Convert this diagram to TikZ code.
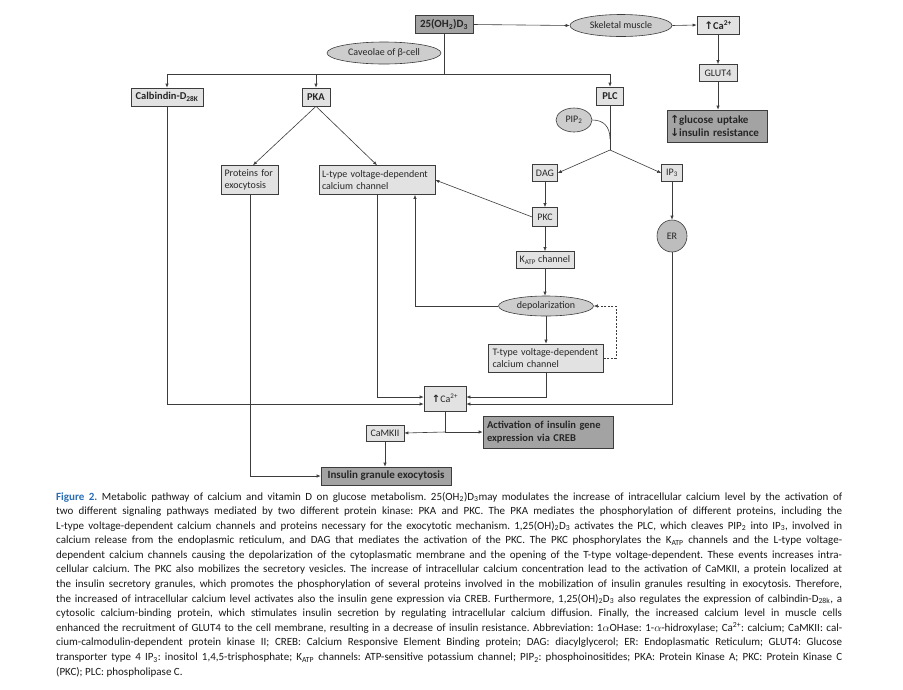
\documentclass[tikz,border=0pt]{standalone}
\usepackage{fontspec}
\setmainfont{Carlito}
\newfontfamily\symf{DejaVu Sans}
\usetikzlibrary{shapes.geometric,arrows.meta,calc}
\definecolor{lfill}{HTML}{E2E2E2}
\definecolor{dfill}{HTML}{A3A3A3}
\definecolor{efill}{HTML}{CDCDCD}
\definecolor{erfill}{HTML}{BDBDBD}
\definecolor{lnc}{HTML}{3C3C3C}
\definecolor{figblue}{HTML}{2A6DB5}
\newcommand{\up}{{\symf\bfseries ↑}}
\newcommand{\dn}{{\symf\bfseries ↓}}
\frenchspacing
\begin{document}
\begin{tikzpicture}[x=1pt,y=-1pt,
  lbox/.style={draw=lnc, fill=lfill, line width=0.6pt, inner sep=1pt, text=black!85, font=\fontsize{10}{11.5}\selectfont},
  dbox/.style={lbox, fill=dfill, font=\fontsize{11}{13}\selectfont\bfseries},
  bbox/.style={lbox, font=\fontsize{10.5}{12}\selectfont\bfseries},
  ell/.style={ellipse, draw=lnc, fill=efill, line width=0.6pt, inner sep=0pt, text=black!85, font=\fontsize{10}{11.5}\selectfont},
  con/.style={draw=lnc, line width=0.6pt},
  arr/.style={con, -{Latex[length=4pt,width=3.2pt]}},
  capline/.style={anchor=west, inner sep=0pt, text=black!90, font=\fontsize{11}{13}\selectfont}]
\useasboundingbox[fill=white] (0,0) rectangle (903,689);

% ---- nodes ----
\node[dbox, minimum width=58, minimum height=18] (d3) at (444,24.5) {25(OH\textsubscript{2})D\textsubscript{3}};
\node[ell, minimum width=102, minimum height=22] (skm) at (621,25.5) {Skeletal muscle};
\node[bbox, minimum width=42, minimum height=18] (catop) at (718,25) {\up Ca\textsuperscript{2+}};
\node[lbox, minimum width=38, minimum height=17] (glut) at (718,73) {GLUT4};
\node[dbox, minimum width=100, minimum height=32, align=left, text width=94, inner xsep=3] (gluc) at (717,126) {\up glucose uptake\\\dn insulin resistance};
\node[ell, minimum width=114, minimum height=22] (cav) at (384,53) {Caveolae of β-cell};

\node[bbox, minimum width=72, minimum height=18] (calb) at (167,97) {Calbindin-D\textsubscript{28K}};
\node[bbox, minimum width=28, minimum height=18] (pka) at (316,97) {PKA};
\node[bbox, minimum width=27, minimum height=18] (plc) at (610,96) {PLC};
\node[ell, minimum width=36, minimum height=24] (pip) at (574,120) {PIP\textsubscript{2}};

\node[lbox, minimum width=25, minimum height=17] (dag) at (545,173) {DAG};
\node[lbox, minimum width=21, minimum height=17] (ip3) at (672,173) {IP\textsubscript{3}};
\node[lbox, minimum width=25, minimum height=19] (pkc) at (545,217) {PKC};
\node[lbox, minimum width=58, minimum height=17] (katp) at (545,260) {K\textsubscript{ATP} channel};
\node[ell, minimum width=95, minimum height=20] (depol) at (546,306) {depolarization};
\node[lbox, minimum width=115, minimum height=28, align=left, text width=107, inner xsep=4] (ttype) at (546,358) {T-type voltage-dependent\\calcium channel};
\node[ell, fill=erfill, minimum width=30, minimum height=32] (er) at (672,236) {ER};

\node[lbox, minimum width=57, minimum height=29, align=left, text width=51, inner xsep=3] (prot) at (250,180) {Proteins for\\exocytosis};
\node[lbox, minimum width=116, minimum height=29, align=left, text width=110, inner xsep=3] (ltype) at (377,180) {L-type voltage-dependent\\calcium channel};

\node[lbox, minimum width=42, minimum height=25] (ca) at (445,398.5) {\up Ca\textsuperscript{2+}};
\node[lbox, minimum width=38, minimum height=16] (camk) at (385,433) {CaMKII};
\node[dbox, font=\fontsize{10.5}{12.5}\selectfont\bfseries, minimum width=130, minimum height=32, align=left, text width=122, inner xsep=4] (creb) at (548,432) {Activation of insulin gene\\expression via CREB};
\node[dbox, minimum width=130, minimum height=18] (ige) at (386,476) {Insulin granule exocytosis};

% ---- connectors ----
\draw[arr] (d3.east) -- (skm.west);
\draw[arr] (skm.east) -- (catop.west);
\draw[arr] (catop.south) -- (glut.north);
\draw[arr] (glut.south) -- (glut.south |- gluc.north);

\coordinate (hub) at (444,74);
\draw[con] (d3.south) -- (hub);
\draw[arr] (hub) -| (calb.north);
\draw[arr] (hub) -| (plc.north);
\draw[arr] (pka.north |- hub) -- (pka.north);

\draw[arr] (pka.south) -- ([xshift=3]prot.north);
\draw[arr] (pka.south) -- (ltype.north);

\coordinate (br) at (610,150);
\draw[con] (plc.south) -- (br);
\draw[con] (pip.east) .. controls (603,120) and (610,126) .. (610,139);
\draw[arr] (br) -- (dag.east);
\draw[arr] (br) -- (ip3.west);

\draw[arr] (dag.south) -- (dag.south |- pkc.north);
\draw[arr] (pkc.south) -- (pkc.south |- katp.north);
\draw[arr] (katp.south) -- (katp.south |- depol.north);
\draw[arr] (depol.south) -- (depol.south |- ttype.north);
\draw[arr] (pkc.west) -- (ltype.east);
\draw[arr] (depol.west) -| ([xshift=38]ltype.south);
\draw[arr, dash pattern=on 2pt off 1.5pt, line width=0.5pt] (ttype.east) -- ++(12,0) |- (depol.east);

\draw[arr] (ip3.south) -- (er.north);

\draw[arr] (ltype.south) |- ([yshift=1.5]ca.west);
\draw[arr] (calb.south) |- ([yshift=-5.5]ca.west);
\draw[arr] (ttype.south) |- ([yshift=1.5]ca.east);
\draw[arr] (er.south) |- ([yshift=-5.5]ca.east);
\draw[arr] (prot.south) |- (ige.west);

\coordinate (j) at (445,432);
\draw[con] (ca.south) -- (j);
\draw[arr] (j) -- (camk.east);
\draw[arr] (j) -- (creb.west);
\draw[arr] (camk.south) -- (camk.south |- ige.north);

% ---- caption ----
\node[capline] (c1) at (56,497) {\makebox[786pt][s]{\textcolor{figblue}{\bfseries Figure 2.} Metabolic pathway of calcium and vitamin D on glucose metabolism. 25(OH\textsubscript{2})D\textsubscript{3}may modulates the increase of intracellular calcium level by the activation of}};
\node[capline] (c2) at (56,511.6) {\makebox[786pt][s]{two different signaling pathways mediated by two different protein kinase: PKA and PKC. The PKA mediates the phosphorylation of different proteins, including the}};
\node[capline] (c3) at (56,526.2) {\makebox[786pt][s]{L-type voltage-dependent calcium channels and proteins necessary for the exocytotic mechanism. 1,25(OH)\textsubscript{2}D\textsubscript{3} activates the PLC, which cleaves PIP\textsubscript{2} into IP\textsubscript{3}, involved in}};
\node[capline] (c4) at (56,540.8) {\makebox[786pt][s]{calcium release from the endoplasmic reticulum, and DAG that mediates the activation of the PKC. The PKC phosphorylates the K\textsubscript{ATP} channels and the L-type voltage-}};
\node[capline] (c5) at (56,555.4) {\makebox[786pt][s]{dependent calcium channels causing the depolarization of the cytoplasmatic membrane and the opening of the T-type voltage-dependent. These events increases intra-}};
\node[capline] (c6) at (56,570) {\makebox[786pt][s]{cellular calcium. The PKC also mobilizes the secretory vesicles. The increase of intracellular calcium concentration lead to the activation of CaMKII, a protein localized at}};
\node[capline] (c7) at (56,584.6) {\makebox[786pt][s]{the insulin secretory granules, which promotes the phosphorylation of several proteins involved in the mobilization of insulin granules resulting in exocytosis. Therefore,}};
\node[capline] (c8) at (56,599.2) {\makebox[786pt][s]{the increased of intracellular calcium level activates also the insulin gene expression via CREB. Furthermore, 1,25(OH)\textsubscript{2}D\textsubscript{3} also regulates the expression of calbindin-D\textsubscript{28k}, a}};
\node[capline] (c9) at (56,613.8) {\makebox[786pt][s]{cytosolic calcium-binding protein, which stimulates insulin secretion by regulating intracellular calcium diffusion. Finally, the increased calcium level in muscle cells}};
\node[capline] (c10) at (56,628.4) {\makebox[786pt][s]{enhanced the recruitment of GLUT4 to the cell membrane, resulting in a decrease of insulin resistance. Abbreviation: 1$\alpha$OHase: 1-$\alpha$-hidroxylase; Ca\textsuperscript{2+}: calcium; CaMKII: cal-}};
\node[capline] (c11) at (56,643) {\makebox[786pt][s]{cium-calmodulin-dependent protein kinase II; CREB: Calcium Responsive Element Binding protein; DAG: diacylglycerol; ER: Endoplasmatic Reticulum; GLUT4: Glucose}};
\node[capline] (c12) at (56,657.6) {\makebox[786pt][s]{transporter type 4 IP\textsubscript{3}: inositol 1,4,5-trisphosphate; K\textsubscript{ATP} channels: ATP-sensitive potassium channel; PIP\textsubscript{2}: phosphoinositides; PKA: Protein Kinase A; PKC: Protein Kinase C}};
\node[capline] (c13) at (56,672.2) {(PKC); PLC: phospholipase C.};
\end{tikzpicture}
\end{document}
